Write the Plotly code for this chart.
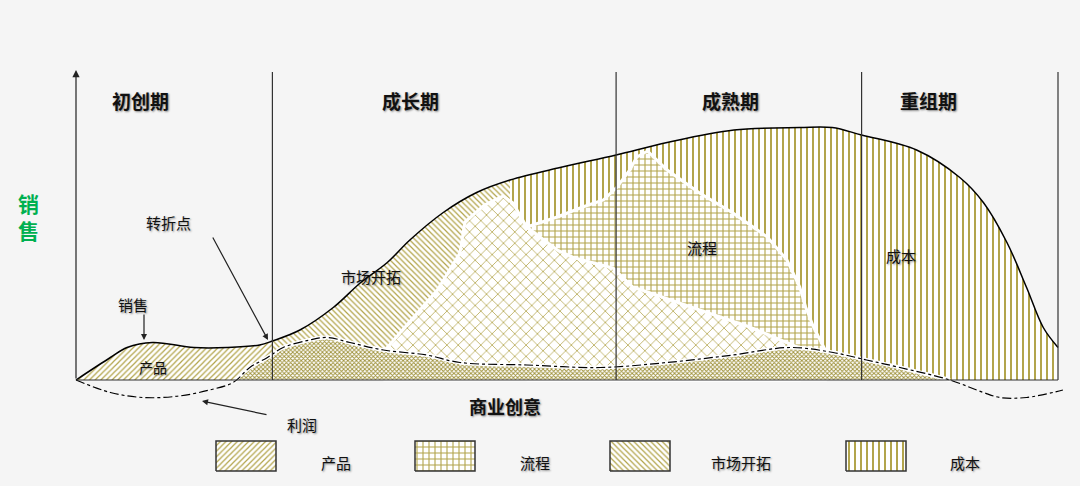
import plotly.graph_objects as go

# business life cycle: sales curve and profit curve over time (0-100)
STAGES = ["初创期", "成长期", "成熟期", "重组期"]
STAGE_BOUNDS = [0, 20, 55, 80, 100]

SALES_T = [0, 3.5, 5.2, 7.8, 12, 15.4, 18.7, 20, 22.8, 26.2, 29, 31.7, 34, 37.4, 40.8, 44.2,
           49.3, 55, 60.2, 67, 73.7, 77, 80, 85.6, 90, 92.4, 94.8, 96.8, 98.5, 100]
SALES = [0, 9, 13, 15, 13, 13, 14, 15.6, 20, 29, 39, 47, 56, 67, 75, 80,
         85, 90, 95, 100, 101, 101, 98, 92, 81, 71, 55, 37, 21, 13]

PROFIT_T = [0, 3.5, 6.8, 10.3, 13.6, 16, 17.7, 19.5, 21.1, 23.8, 25.6, 27.9, 31.3, 35.7, 39.1,
            45.9, 53.4, 60.2, 66.9, 72.7, 77.1, 80.5, 83.9, 89, 92.4, 94.1, 96.8, 100.5]
PROFIT = [0, -5, -7, -6.5, -4, -1, 5, 9, 13, 16, 17, 15, 12, 10, 7,
          6, 5, 7, 10, 13, 11, 8, 5, 0, -5, -7, -7, -4]

# overlap zones
MIX_T = [31.3, 34.0, 36.8, 39.1, 39.6, 41.6, 43.5, 44.5, 45.9, 49.0, 50.8, 54.7, 56.7, 63.5,
         68.6, 73.7, 73.7, 31.3]
MIX_S = [11.2, 23.2, 36, 50.8, 63.2, 70, 73.6, 70.8, 61.2, 52, 48.8, 44.8, 37.2, 28,
         21.2, 12.8, 0, 0]
PROCESS_T = [45.9, 49.0, 51.6, 53.7, 55.1, 56.4, 57.1, 58.2, 60.2, 63.5, 66.9, 70.4, 72.4,
             73.7, 74.3, 75.1, 76.3, 76.3, 45.9]
PROCESS_S = [61.2, 65.2, 69.2, 72, 77.2, 84, 89.2, 91.6, 84, 74.8, 66.8, 57.2, 48,
             37.2, 29.2, 21.2, 12, 0, 0]

LEGEND_NAMES = ["产品", "流程", "市场开拓", "成本"]

OLIVE = "#b2a44a"
BG = "#f5f5f5"
FONT = "Noto Sans CJK SC"

PATTERNS = {
    "产品": dict(shape="/", size=4, solidity=0.3),
    "流程": dict(shape="+", size=6, solidity=0.33),
    "市场开拓": dict(shape="\\", size=4, solidity=0.3),
    "成本": dict(shape="|", size=6, solidity=0.33),
}


def tx(px):
    return (px - 76) / 9.82


def sy(py):
    return (380 - py) / 2.5


def pat(name=None, **kw):
    p = dict(PATTERNS[name]) if name else {}
    p.update(kw)
    p.update(fgcolor=OLIVE, bgcolor="white", fillmode="replace")
    return p


fig = go.Figure()

# product / market / cost areas under the sales curve
i20 = SALES_T.index(20)
i44 = SALES_T.index(44.2)
for name, a, b in [("产品", 0, i20 + 1), ("市场开拓", i20, i44 + 1), ("成本", i44, len(SALES_T))]:
    fig.add_trace(go.Scatter(x=SALES_T[a:b], y=SALES[a:b], mode="lines", fill="tozeroy",
                             line=dict(shape="spline", width=0, color="white"),
                             fillpattern=pat(name), hoverinfo="skip", showlegend=False))

fig.add_trace(go.Scatter(x=PROCESS_T, y=PROCESS_S, mode="lines", fill="toself",
                         line=dict(width=3, color="white"), fillpattern=pat("流程"),
                         hoverinfo="skip", showlegend=False))
fig.add_trace(go.Scatter(x=MIX_T, y=MIX_S, mode="lines", fill="toself",
                         line=dict(width=3, color="white"),
                         fillpattern=pat(shape="x", size=8, solidity=0.18),
                         hoverinfo="skip", showlegend=False))

# profit zone (product + market overlap)
ia = PROFIT_T.index(16)
ib = PROFIT_T.index(89) + 1
fig.add_trace(go.Scatter(x=PROFIT_T[ia:ib], y=PROFIT[ia:ib], mode="lines", fill="tozeroy",
                         line=dict(shape="spline", width=4, color="white"),
                         fillpattern=dict(shape="x", size=3, solidity=0.5, fgcolor="#9d9038",
                                          bgcolor="white", fillmode="replace"),
                         hoverinfo="skip", showlegend=False))

# curves
fig.add_trace(go.Scatter(x=SALES_T, y=SALES, mode="lines",
                         line=dict(shape="spline", color="black", width=1.5),
                         hoverinfo="skip", showlegend=False))
fig.add_trace(go.Scatter(x=PROFIT_T, y=PROFIT, mode="lines",
                         line=dict(shape="spline", color="black", width=1.2, dash="dashdot"),
                         hoverinfo="skip", showlegend=False))

# legend keys
for name, left in zip(LEGEND_NAMES, [216, 415, 610, 846]):
    x0, x1 = tx(left), tx(left + 60)
    y0, y1 = sy(471), sy(441)
    fig.add_trace(go.Scatter(x=[x0, x1, x1, x0, x0], y=[y0, y0, y1, y1, y0], mode="lines",
                             fill="toself", line=dict(color="#333333", width=1.5),
                             fillpattern=pat(name), hoverinfo="skip", showlegend=False))

shapes = [dict(type="line", x0=0, x1=100, y0=0, y1=0, line=dict(color="#333333", width=1.2))]
for b in STAGE_BOUNDS[1:]:
    shapes.append(dict(type="line", x0=b, x1=b, y0=0, y1=sy(72),
                       line=dict(color="#333333", width=1.2)))

annotations = [
    # y axis arrow
    dict(x=0, y=sy(70), ax=0, ay=0, axref="x", ayref="y", text="", showarrow=True,
         arrowhead=2, arrowsize=1.2, arrowwidth=1.2, arrowcolor="#222222"),
    # pointer arrows
    dict(x=tx(268), y=sy(340), ax=tx(212), ay=sy(236), axref="x", ayref="y", text="",
         showarrow=True, arrowhead=2, arrowwidth=1.2, arrowcolor="#222222"),
    dict(x=tx(144), y=sy(340), ax=tx(144), ay=sy(313), axref="x", ayref="y", text="",
         showarrow=True, arrowhead=2, arrowwidth=1.2, arrowcolor="#222222"),
    dict(x=tx(202), y=sy(401), ax=tx(268), ay=sy(415), axref="x", ayref="y", text="",
         showarrow=True, arrowhead=2, arrowwidth=1.2, arrowcolor="#222222"),
]

shadow = "1px 1px 2px rgba(0,0,0,0.45)"
for name, cx in zip(STAGES, [140, 410, 730, 928]):
    annotations.append(dict(x=tx(cx), y=sy(100), text=f"<b>{name}</b>", showarrow=False,
                            font=dict(family=FONT, size=19, color="#111111", shadow=shadow)))

labels = [
    ("转折点", 168, 222, 15), ("销售", 133, 304, 15), ("产品", 153, 367, 14),
    ("市场开拓", 371, 276, 15), ("流程", 702, 247, 15), ("成本", 901, 255, 15),
    ("利润", 302, 424, 15),
]
for text, px, py, size in labels:
    annotations.append(dict(x=tx(px), y=sy(py), text=text, showarrow=False,
                            font=dict(family=FONT, size=size, color="#111111", shadow=shadow)))

annotations.append(dict(x=tx(505), y=sy(406), text="<b>商业创意</b>", showarrow=False,
                        font=dict(family=FONT, size=18, color="#111111", shadow=shadow)))
annotations.append(dict(x=tx(28), y=sy(216), text="<b>销<br>售</b>", showarrow=False,
                        font=dict(family=FONT, size=21, color="#00b050")))

for name, px in zip(LEGEND_NAMES, [336, 535, 741, 965]):
    annotations.append(dict(x=tx(px), y=sy(462), text=name, showarrow=False,
                            font=dict(family=FONT, size=15, color="#111111", shadow=shadow)))

fig.update_layout(
    width=1080, height=486,
    margin=dict(l=0, r=0, t=0, b=0),
    paper_bgcolor=BG, plot_bgcolor=BG,
    xaxis=dict(range=[tx(0), tx(1080)], visible=False, fixedrange=True),
    yaxis=dict(range=[sy(486), sy(0)], visible=False, fixedrange=True),
    shapes=shapes, annotations=annotations,
)

fig.write_html("out.html", config={"displayModeBar": False},
               post_script="document.body.style.margin='0';")
